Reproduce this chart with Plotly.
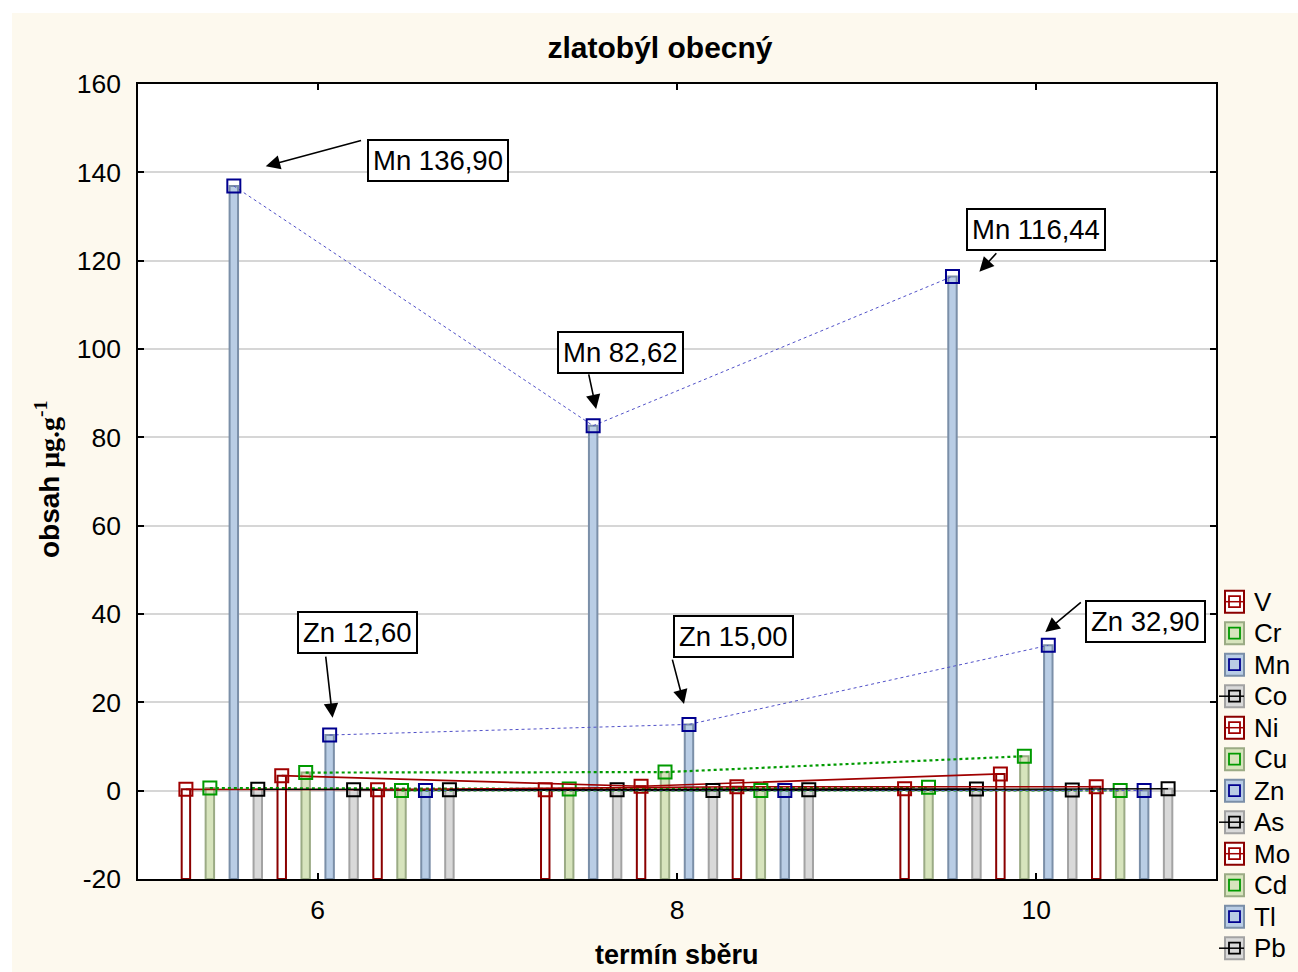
import plotly.graph_objects as go

# ---------------- data ----------------
terms = [6, 8, 10]
elements = ["V", "Cr", "Mn", "Co", "Ni", "Cu", "Zn", "As", "Mo", "Cd", "Tl", "Pb"]
V = [0.30, 0.20, 0.45]
Cr = [0.60, 0.40, 0.80]
Mn = [136.90, 82.62, 116.44]
Co = [0.30, 0.20, 0.40]
Ni = [3.40, 1.00, 3.80]
Cu = [4.10, 4.20, 7.80]
Zn = [12.60, 15.00, 32.90]
As = [0.20, 0.05, 0.15]
Mo = [0.20, 0.90, 0.90]
Cd = [0.05, 0.05, 0.05]
Tl = [0.05, 0.05, 0.05]
Pb = [0.20, 0.20, 0.45]
series = [V, Cr, Mn, Co, Ni, Cu, Zn, As, Mo, Cd, Tl, Pb]

y_ticks = [-20, 0, 20, 40, 60, 80, 100, 120, 140, 160]
y_ticktext = ["-20", "0", "20", "40", "60", "80", "100", "120", "140", "160"]
x_ticks = [6, 8, 10]

# callouts: (text, box x, box y, arrow tail x, tail y, head x, head y)
callouts = [
    ("Mn 136,90", 6.667, 142.7, 6.25, 147.3, 5.711, 141.4),
    ("Mn 82,62", 7.688, 99.2, 7.507, 94.6, 7.55, 86.4),
    ("Mn 116,44", 9.998, 127.1, 9.785, 122.0, 9.683, 117.5),
    ("Zn 12,60", 6.219, 35.9, 6.044, 30.7, 6.083, 16.5),
    ("Zn 15,00", 8.314, 34.9, 7.972, 30.0, 8.039, 19.6),
    ("Zn 32,90", 10.608, 38.3, 10.256, 42.9, 10.05, 35.9),
]

# ---------------- styles ----------------
FONT = "Liberation Sans, Arial, sans-serif"
BASE = -20
slot = 2 / 15
bar_w = 0.047

# style by family (V-type, Cr-type, Mn-type, Co-type)
fam_bar_fill = ["#ffffff", "#d7e4bd", "#b9cde5", "#d9d9d9"]
fam_bar_line = ["#8b0000", "#9bab85", "#7b8fa8", "#a3a3a3"]
fam_mark = ["#a00000", "#009a00", "#00008f", "#000000"]
fam_line_col = ["#a00000", "#009a00", "#5050c8", "#000000"]
fam_dash = ["solid", "dot", "dot", "solid"]
fam_lw = [1.6, 2.2, 1.0, 1.4]

fig = go.Figure()

n = len(elements)
# bars
for i, (name, vals) in enumerate(zip(elements, series)):
    f = i % 4
    xs = [t + (i - (n - 1) / 2) * slot for t in terms]
    fig.add_trace(go.Bar(
        x=xs, y=[v - BASE for v in vals], base=BASE, width=bar_w,
        marker=dict(color=fam_bar_fill[f], line=dict(color=fam_bar_line[f], width=2)),
        name=name, showlegend=False, hoverinfo="skip",
    ))
# lines + markers
for i, (name, vals) in enumerate(zip(elements, series)):
    f = i % 4
    xs = [t + (i - (n - 1) / 2) * slot for t in terms]
    fig.add_trace(go.Scatter(
        x=xs, y=vals, mode="lines+markers", name=name, showlegend=False,
        line=dict(color=fam_line_col[f], width=fam_lw[f], dash=fam_dash[f]),
        marker=dict(symbol="square-open", size=13, color=fam_mark[f],
                    line=dict(width=2, color=fam_mark[f])),
    ))

# pixel -> paper helpers (plot area 138..1216 x 84..879)
def px(x):
    return (x - 138) / 1078.0

def py(y):
    return (879 - y) / 795.0

shapes = [
    dict(type="rect", xref="paper", yref="paper", x0=px(12), x1=px(1300), y0=py(974), y1=py(13),
         fillcolor="#fdf9ee", line=dict(width=0), layer="below"),
    dict(type="rect", xref="paper", yref="paper", x0=0, x1=1, y0=0, y1=1,
         fillcolor="#ffffff", line=dict(width=0), layer="below"),
]
annotations = []

# legend (manual)
for i, name in enumerate(elements):
    f = i % 4
    yc = 601.7 + 31.5 * i
    shapes.append(dict(type="rect", xref="paper", yref="paper",
                       x0=px(1225), x1=px(1244), y0=py(yc + 11), y1=py(yc - 11),
                       fillcolor=fam_bar_fill[f], line=dict(color=fam_bar_line[f], width=2)))
    if f in (0, 3):
        x0l = 1219 if f == 3 else 1225
        shapes.append(dict(type="line", xref="paper", yref="paper",
                           x0=px(x0l), x1=px(1244), y0=py(yc), y1=py(yc),
                           line=dict(color=fam_line_col[f], width=1.5)))
    shapes.append(dict(type="rect", xref="paper", yref="paper",
                       x0=px(1229), x1=px(1240), y0=py(yc + 5.5), y1=py(yc - 5.5),
                       fillcolor="rgba(0,0,0,0)", line=dict(color=fam_mark[f], width=1.8)))
    annotations.append(dict(text=name, xref="paper", yref="paper", x=px(1252), y=py(yc),
                            xanchor="left", yanchor="middle", showarrow=False,
                            font=dict(family=FONT, size=26, color="#000000")))

# callouts
for txt, bx, by, tx, ty, hx, hy in callouts:
    annotations.append(dict(text="", x=hx, y=hy, ax=tx, ay=ty, xref="x", yref="y",
                            axref="x", ayref="y", showarrow=True, arrowhead=2,
                            arrowsize=1.8, arrowwidth=1.6, arrowcolor="#000000"))
    annotations.append(dict(text=txt, x=bx, y=by, xref="x", yref="y", showarrow=False,
                            xanchor="center", yanchor="middle",
                            font=dict(family=FONT, size=27.5, color="#000000"),
                            bgcolor="#ffffff", bordercolor="#000000", borderwidth=2, borderpad=4))

# axis titles
annotations.append(dict(text="<b>termín sběru</b>", xref="paper", yref="paper",
                        x=px(677), y=py(955), xanchor="center", yanchor="middle", showarrow=False,
                        font=dict(family=FONT, size=27, color="#000000")))
annotations.append(dict(text="<b>obsah <span style='font-family:Liberation Serif'>μg.g<sup>-1</sup></span></b>",
                        xref="paper", yref="paper", x=px(47), y=py(480), textangle=-90,
                        xanchor="center", yanchor="middle", showarrow=False,
                        font=dict(family=FONT, size=28, color="#000000")))

fig.update_layout(
    width=1298, height=972,
    margin=dict(l=138, r=82, t=84, b=93, pad=0),
    paper_bgcolor="#ffffff", plot_bgcolor="rgba(0,0,0,0)",
    barmode="overlay", showlegend=False,
    title=dict(text="<b>zlatobýl obecný</b>", x=660 / 1298, xref="container", xanchor="center",
               y=1 - 47 / 972, yref="container", yanchor="middle",
               font=dict(family=FONT, size=30, color="#000000")),
    font=dict(family=FONT, size=26, color="#000000"),
    shapes=shapes, annotations=annotations,
    xaxis=dict(range=[5, 11], tickvals=x_ticks, ticktext=[str(t) for t in x_ticks],
               ticks="inside", ticklen=6, tickwidth=1.5, tickcolor="#000000",
               showline=True, linecolor="#000000", linewidth=1.5, mirror="ticks",
               showgrid=False, zeroline=False, ticklabelstandoff=6,
               tickfont=dict(family=FONT, size=26.5, color="#000000")),
    yaxis=dict(range=[-20, 160], tickvals=y_ticks, ticktext=y_ticktext,
               ticks="inside", ticklen=6, tickwidth=1.5, tickcolor="#000000",
               showline=True, linecolor="#000000", linewidth=1.5, mirror="ticks",
               showgrid=True, gridcolor="#d6d6d6", gridwidth=1.5, zeroline=False,
               ticklabelstandoff=10,
               tickfont=dict(family=FONT, size=26.5, color="#000000")),
)

fig.write_html("out.html")
